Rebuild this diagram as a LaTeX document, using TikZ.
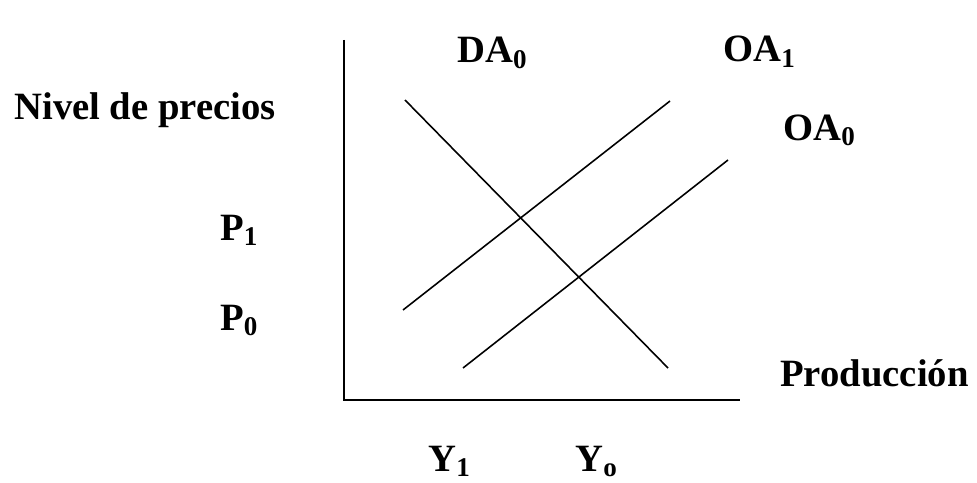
\documentclass[tikz,border=0pt]{standalone}
\usepackage{fontspec}
\setmainfont{Liberation Serif}
\usetikzlibrary{positioning}

\begin{document}
\begin{tikzpicture}[x=0.02cm,y=-0.02cm,
    every node/.style={font=\fontsize{22}{26}\selectfont\bfseries,inner sep=0pt,anchor=base west},
    curve/.style={line width=0.9pt}]
  \useasboundingbox (0,0) rectangle (977,483);
  % axes
  \coordinate (top)    at (344,40);
  \coordinate (origin) at (344,400);
  \coordinate (right)  at (740,400);
  \draw[line width=1pt] (top) -- (origin) -- (right);
  % labels
  \foreach \n/\x/\y/\t in {
      lblP/14/119/{Nivel de precios},
      lblPa/220/240/{P\textsubscript{1}},
      lblPb/220/330/{P\textsubscript{0}},
      lblDA/457/63/{DA\textsubscript{0}},
      lblOAa/723/62/{OA\textsubscript{1}},
      lblOAb/783/140/{OA\textsubscript{0}},
      lblQ/780/386/{Producción},
      lblYa/428/471/{Y\textsubscript{1}},
      lblYb/575/471/{Y\textsubscript{o}}}{
    \node (\n) at (\x,\y) {\t};
  }
  % curves
  \coordinate (da0s) at (405,100);  \coordinate (da0e) at (668,368);
  \coordinate (oa1s) at (403,310);  \coordinate (oa1e) at (670,101);
  \coordinate (oa0s) at (463,368);  \coordinate (oa0e) at (728,160);
  \foreach \a/\b in {da0s/da0e,oa1s/oa1e,oa0s/oa0e}
    \draw[curve] (\a) -- (\b);
\end{tikzpicture}
\end{document}
